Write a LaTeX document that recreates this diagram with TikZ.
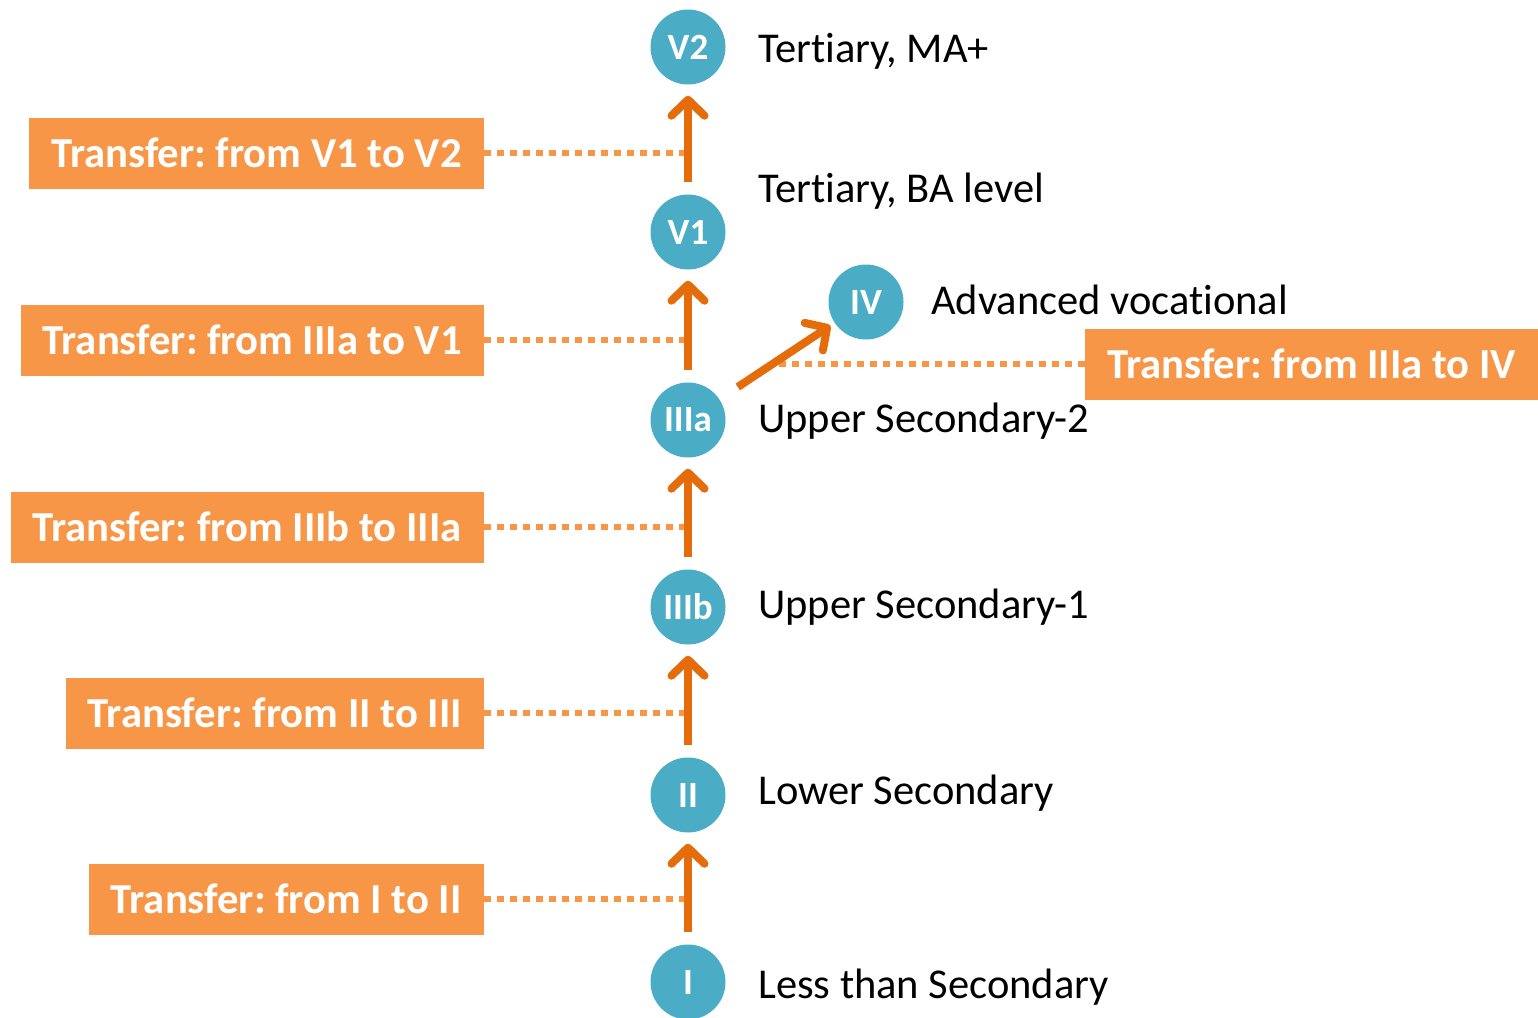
\documentclass[tikz,border=0pt]{standalone}
\usepackage{fontspec}
\setmainfont{Carlito}[Ligatures=NoCommon]
\frenchspacing
\usetikzlibrary{arrows.meta}
\definecolor{levelblue}{HTML}{4BACC6}
\definecolor{boxorange}{HTML}{F79646}
\definecolor{arroworange}{HTML}{E46C0A}
\tikzset{
  level/.style={circle, fill=levelblue, draw=none, minimum size=75pt, inner sep=0pt,
    text=white, font=\fontsize{37}{44}\selectfont\bfseries},
  desc/.style={anchor=base west, inner sep=0pt, font=\fontsize{42.5}{50}\selectfont},
  transfer/.style={fill=boxorange, draw=none, minimum height=71pt, inner xsep=22pt,
    text=white, font=\fontsize{42.7}{50}\selectfont\bfseries},
  uparrow/.style={draw=arroworange, line width=8pt, shorten <=12pt, shorten >=11pt,
    -{Straight Barb[length=16pt, width=33pt, line cap=round, line join=round]}},
  guide/.style={draw=boxorange, line width=6pt, dash pattern=on 7pt off 6pt}
}
\begin{document}
\begin{tikzpicture}[x=1pt, y=-1pt]
\useasboundingbox (0,0) rectangle (1538,1017);

% education levels
\node[level] (V2)   at (688,47)  {V2};
\node[level] (V1)   at (688,232) {V1};
\node[level] (IV)   at (866,302) {IV};
\node[level] (IIIa) at (688,420) {IIIa};
\node[level] (IIIb) at (688,607) {IIIb};
\node[level] (II)   at (688,795) {II};
\node[level] (I)    at (688,982) {I};

% level descriptions
\node[desc] (dV2)   at (758,62)  {Tertiary, MA+};
\node[desc] (dV1)   at (758,202) {Tertiary, BA level};
\node[desc] (dIV)   at (931,314) {Advanced vocational};
\node[desc] (dIIIa) at (758,432) {Upper Secondary-2};
\node[desc] (dIIIb) at (758,618) {Upper Secondary-1};
\node[desc] (dII)   at (758,804) {Lower Secondary};
\node[desc] (dI)    at (758,998) {Less than Secondary};

% transfer boxes
\node[transfer, anchor=east] (t1) at (484,153) {Transfer: from V1 to V2};
\node[transfer, anchor=east] (t2) at (484,340) {Transfer: from IIIa to V1};
\node[transfer, anchor=east] (t3) at (484,527) {Transfer: from IIIb to IIIa};
\node[transfer, anchor=east] (t4) at (484,713) {Transfer: from II to III};
\node[transfer, anchor=east] (t5) at (484,899) {Transfer: from I to II};
\node[transfer, anchor=west] (t6) at (1085,364) {Transfer: from IIIa to IV};

% dotted guides to the arrows
\draw[guide] (t1.east) -- (t1.east -| V1.center);
\draw[guide] (t2.east) -- (t2.east -| V1.center);
\draw[guide] (t3.east) -- (t3.east -| V1.center);
\draw[guide] (t4.east) -- (t4.east -| V1.center);
\draw[guide] (t5.east) -- (t5.east -| V1.center);
\coordinate (g6) at (773,364);
\draw[guide] (t6.west) -- (g6);

% transitions
\draw[uparrow] (V1) -- (V2);
\draw[uparrow] (IIIa) -- (V1);
\draw[uparrow] (IIIb) -- (IIIa);
\draw[uparrow] (II) -- (IIIb);
\draw[uparrow] (I) -- (II);
\draw[uparrow, shorten <=22pt, shorten >=5pt] (IIIa) -- (IV);
\end{tikzpicture}
\end{document}
